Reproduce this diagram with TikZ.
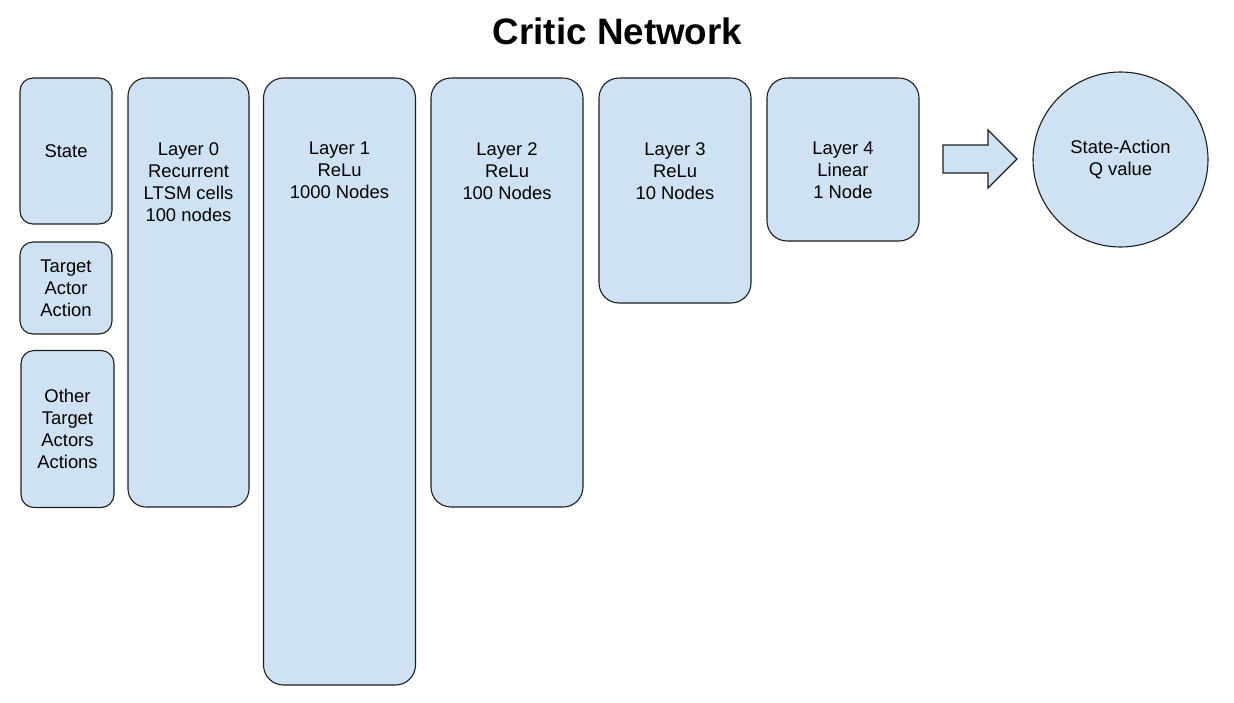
\documentclass[tikz,border=0pt]{standalone}
\usepackage{fontspec}
\setmainfont{Liberation Sans}
\usepackage{tikz}
\usetikzlibrary{positioning}

\definecolor{boxblue}{HTML}{CFE2F3}
\definecolor{boxline}{HTML}{1E1E1E}

\tikzset{
	netbox/.style = {draw = boxline, fill = boxblue, line width = 1.1pt, inner sep = 0pt,
		align = center, font = \fontsize{18.4}{22}\selectfont},
	layertext/.style = {anchor = north, inner sep = 0pt, align = center, yshift = -64.5pt,
		font = \fontsize{18.4}{22}\selectfont}
}

\begin{document}
\begin{tikzpicture}[x = 1pt, y = -1pt]
	\useasboundingbox (0,0) rectangle (1234,702);
	% title
	\node (title) at (617.5,31) {\fontsize{36.8}{40}\selectfont\bfseries Critic Network};
	% inputs
	\node [netbox, rounded corners = 13pt, minimum width = 92pt, minimum height = 146pt] (state) at (66,151) {State};
	\node [netbox, rounded corners = 13pt, minimum width = 92pt, minimum height = 92pt] (action) at (66,288) {Target\\Actor\\Action};
	\node [netbox, rounded corners = 13pt, minimum width = 93pt, minimum height = 157pt] (others) at (67.5,429) {Other\\Target\\Actors\\Actions};
	% layers
	\node [netbox, rounded corners = 18pt, minimum width = 121pt, minimum height = 429pt,
		label = {[layertext]north:Layer 0\\Recurrent\\LTSM cells\\100 nodes}] (layer0) at (188.5,292.5) {};
	\node [netbox, rounded corners = 20pt, minimum width = 152pt, minimum height = 607pt,
		label = {[layertext]north:Layer 1\\ReLu\\1000 Nodes}] (layer1) at (339.5,381.5) {};
	\node [netbox, rounded corners = 20pt, minimum width = 152pt, minimum height = 429pt,
		label = {[layertext]north:Layer 2\\ReLu\\100 Nodes}] (layer2) at (507,292.5) {};
	\node [netbox, rounded corners = 20pt, minimum width = 152pt, minimum height = 225pt,
		label = {[layertext]north:Layer 3\\ReLu\\10 Nodes}] (layer3) at (675,190.5) {};
	\node [netbox, rounded corners = 20pt, minimum width = 152pt, minimum height = 163pt,
		label = {[layertext]north:Layer 4\\Linear\\1 Node}] (layer4) at (843,159.5) {};
	% block arrow
	\draw [draw = boxline, fill = boxblue, line width = 1.1pt] (943,145) -- (988,145) -- (988,130) -- (1017,159)
		-- (988,188) -- (988,173) -- (943,173) -- cycle;
	% output
	\node [netbox, circle, minimum size = 175pt] (qvalue) at (1120.5,159.5) {State-Action\\Q value};
\end{tikzpicture}
\end{document}
